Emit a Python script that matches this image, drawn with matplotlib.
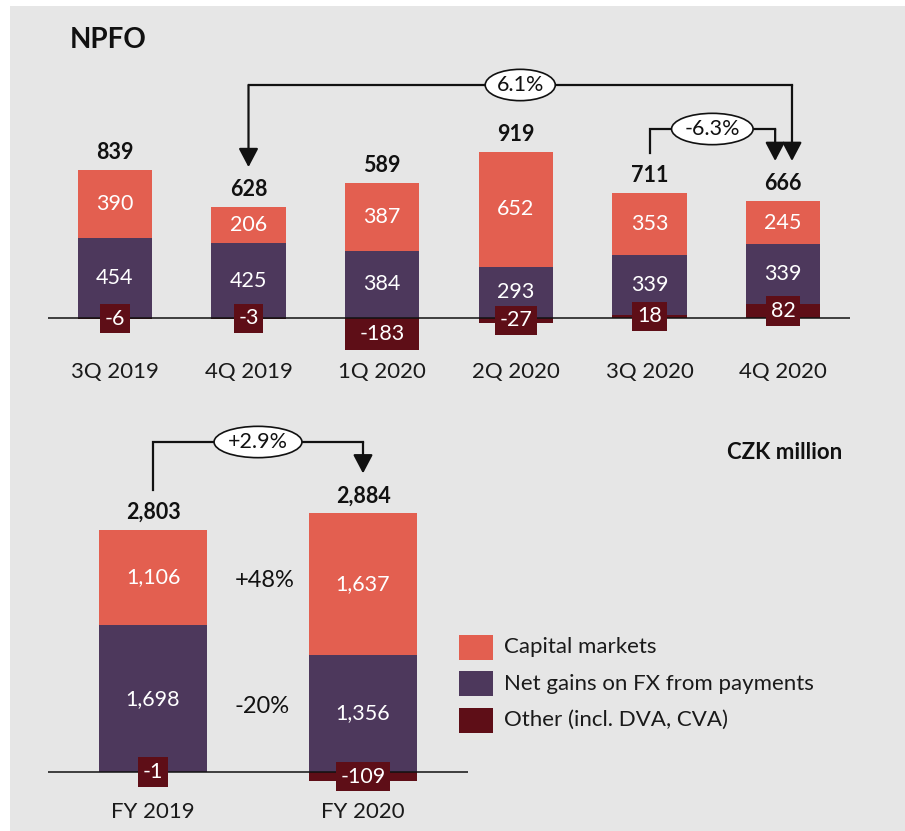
import matplotlib.pyplot as plt
from matplotlib.patches import Rectangle

plt.rcParams['font.family'] = ['Lato', 'DejaVu Sans']

# quarterly NPFO, CZK million
quarters = ['3Q 2019', '4Q 2019', '1Q 2020', '2Q 2020', '3Q 2020', '4Q 2020']
q_capital = [390, 206, 387, 652, 353, 245]
q_fx = [454, 425, 384, 293, 339, 339]
q_other = [-6, -3, -183, -27, 18, 82]
q_total = [839, 628, 589, 919, 711, 666]

# full year
years = ['FY 2019', 'FY 2020']
y_capital = [1106, 1637]
y_fx = [1698, 1356]
y_other = [-1, -109]
y_total = [2803, 2884]

series = ['Capital markets', 'Net gains on FX from payments', 'Other (incl. DVA, CVA)']

RED = '#e35f50'
PURPLE = '#4d385c'
DARK = '#5e0e17'
BG = '#e6e6e6'
INK = '#111111'

W, H = 905, 831
fig = plt.figure(figsize=(W / 100, H / 100), dpi=100)
fig.patches.append(Rectangle((10 / W, 0), 1, 1 - 6 / H, transform=fig.transFigure,
                             fc=BG, ec='none', zorder=-10))


def px_axes(left, top, right, bottom):
    ax = fig.add_axes([left / W, 1 - bottom / H, (right - left) / W, (bottom - top) / H])
    ax.set_facecolor('none')
    ax.axis('off')
    return ax


def label(ax, x, y, s, dy, **kw):
    ax.annotate(s, (x, y), xytext=(0, dy), textcoords='offset pixels',
                ha='center', annotation_clip=False, **kw)


def stacked(ax, cats, cap, fx, oth, tot, width, cat_dy):
    x = list(range(len(cats)))
    fx_bottom = [max(o, 0) for o in oth]
    cap_bottom = [b + f for b, f in zip(fx_bottom, fx)]
    ax.bar(x, oth, width, color=DARK, zorder=2, linewidth=0)
    ax.bar(x, fx, width, bottom=fx_bottom, color=PURPLE, zorder=2, linewidth=0)
    ax.bar(x, cap, width, bottom=cap_bottom, color=RED, zorder=2, linewidth=0)
    ax.axhline(0, color=INK, lw=1.1, zorder=3)
    tops = [b + c for b, c in zip(cap_bottom, cap)]
    for i in x:
        label(ax, i, cap_bottom[i] + cap[i] / 2, f'{cap[i]:,}', 0, va='center',
              color='white', fontsize=15.5, zorder=4)
        label(ax, i, fx_bottom[i] + fx[i] / 2, f'{fx[i]:,}', 0, va='center',
              color='white', fontsize=15.5, zorder=4)
        label(ax, i, oth[i] / 2, f'{oth[i]:,}', 0, va='center', color='white',
              fontsize=15.5, zorder=5,
              bbox=dict(boxstyle='square,pad=0.22', fc=DARK, ec='none'))
        label(ax, i, tops[i], f'{tot[i]:,}', 11, va='baseline', color=INK,
              fontsize=15.5, fontweight='bold')
        label(ax, i, 0, cats[i], cat_dy, va='baseline', color='#1a1a1a', fontsize=16)
    return tops


def bracket(ax, x0, y0, x1, y1, level, text, start_arrow=False):
    line = dict(color=INK, lw=1.6)
    arrow = dict(arrowstyle='-|>,head_length=0.95,head_width=0.5', mutation_scale=12,
                 shrinkA=0, shrinkB=0, **line)
    if start_arrow:
        ax.plot([x0, x1], [level, level], solid_capstyle='projecting', clip_on=False, **line)
        ax.annotate('', (x0, y0), xytext=(x0, level), arrowprops=arrow, annotation_clip=False)
    else:
        ax.plot([x0, x0, x1], [y0, level, level], solid_joinstyle='miter',
                solid_capstyle='projecting', clip_on=False, **line)
    ax.annotate('', (x1, y1), xytext=(x1, level), arrowprops=arrow, annotation_clip=False)
    ax.text((x0 + x1) / 2, level, text, ha='center', va='center', fontsize=15.5, color=INK,
            zorder=6, bbox=dict(boxstyle='ellipse,pad=0.05', fc='white', ec=INK, lw=1.2))


# top chart: quarters
k1 = 0.1757  # px per CZK m
ax1 = px_axes(48, 60, 850, 380)
ax1.set_xlim(-0.5, 5.5)
ax1.set_ylim(-(380 - 318) / k1, (318 - 60) / k1)
t1 = stacked(ax1, quarters, q_capital, q_fx, q_other, q_total, 0.554, -60)
gap1 = 40 / k1
bracket(ax1, 1, t1[1] + gap1, 5.066, t1[5] + gap1, (318 - 85) / k1, '6.1%', start_arrow=True)
bracket(ax1, 4, t1[4] + gap1, 4.94, t1[5] + gap1, (318 - 129) / k1, '-6.3%')

# bottom chart: full year
k2 = 0.0864
ax2 = px_axes(48, 420, 468, 830)
ax2.set_xlim(-0.5, 1.5)
ax2.set_ylim(-(830 - 772) / k2, (772 - 420) / k2)
t2 = stacked(ax2, years, y_capital, y_fx, y_other, y_total, 0.51, -46)
gap2 = 40 / k2
bracket(ax2, 0, t2[0] + gap2, 1, t2[1] + gap2, (772 - 442) / k2, '+2.9%')

cap_mid = sum(max(o, 0) + f + c / 2 for o, f, c in zip(y_other, y_fx, y_capital)) / 2
fx_mid = sum(max(o, 0) + f / 2 for o, f in zip(y_other, y_fx)) / 2
ax2.text(0.53, cap_mid, '+48%', ha='center', va='center', fontsize=17, color=INK)
ax2.text(0.52, fx_mid, '-20%', ha='center', va='center', fontsize=17, color=INK)

# titles
fig.text(70 / W, 1 - 48 / H, 'NPFO', fontsize=20, fontweight='bold', color=INK, va='baseline')
fig.text(842 / W, 1 - 459 / H, 'CZK million', fontsize=16, fontweight='bold', color=INK,
         ha='right', va='baseline')

# legend
for i, (name, col) in enumerate(zip(series, [RED, PURPLE, DARK])):
    yc = 647 + 36.5 * i
    fig.patches.append(Rectangle((459 / W, 1 - (yc + 12.5) / H), 34 / W, 25 / H,
                                 transform=fig.transFigure, fc=col, ec='none'))
    fig.text(504 / W, 1 - yc / H, name, fontsize=16, color='#1a1a1a', va='center')

fig.savefig('out.png', dpi=100)
